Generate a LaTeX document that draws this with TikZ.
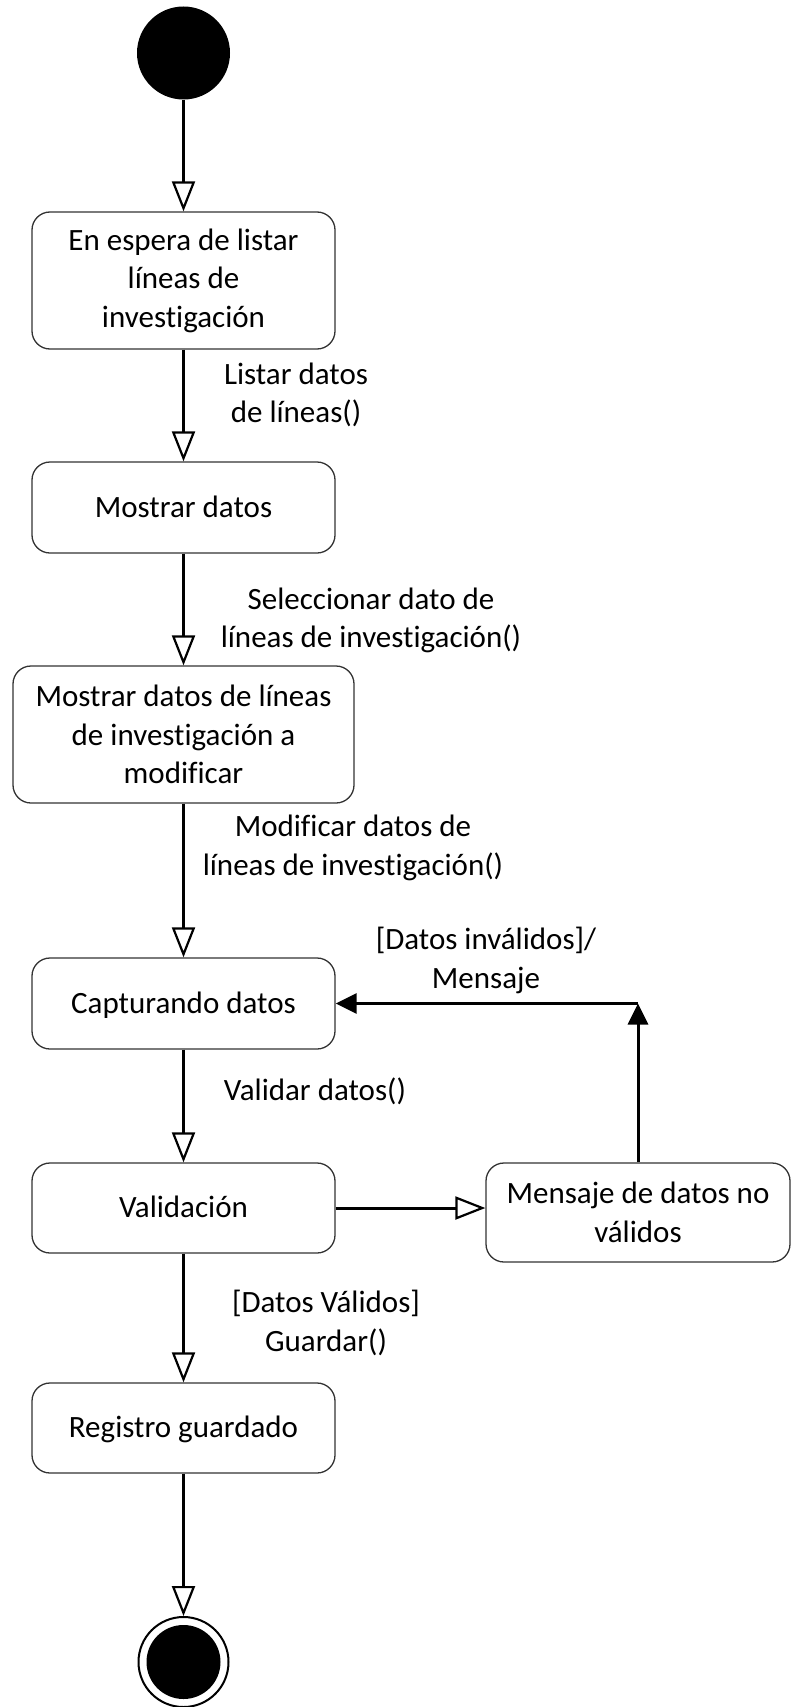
\documentclass[tikz,border=0pt]{standalone}
\usepackage{fontspec}
\setmainfont{Carlito}[Ligatures={NoCommon}]
\usetikzlibrary{arrows.meta}
\begin{document}
\begin{tikzpicture}[x=1pt,y=-1pt,
  txt/.style={font=\fontsize{31}{38.5}\selectfont, text=black, align=center, inner sep=0pt},
  stbox/.style={txt, draw=black!80, line width=1.3pt, rounded corners=18pt, fill=white},
  oneline/.style={text height=22pt, text depth=3pt},
  conn/.style={line width=3pt, -{Triangle[open, length=30pt, width=23pt, line width=2.2pt]}},
  back/.style={line width=3pt, -{Triangle[length=21pt, width=20pt]}},
  lbl/.style={txt}]
\useasboundingbox (0,0) rectangle (793,1707);

\node[circle, fill=black, minimum size=93pt, inner sep=0pt] (start) at (183.5,53) {};

\node[stbox, minimum width=303pt, minimum height=137pt] (s1) at (183.5,280.5)
  {En espera de listar\\líneas de\\investigación};
\node[stbox, oneline, minimum width=303pt, minimum height=91pt] (s2) at (183.5,507.5)
  {Mostrar datos};
\node[stbox, minimum width=341pt, minimum height=137pt] (s3) at (183.5,734.5)
  {Mostrar datos de líneas\\de investigación a\\modificar};
\node[stbox, oneline, minimum width=303pt, minimum height=91pt] (s4) at (183.5,1003.5)
  {Capturando datos};
\node[stbox, oneline, minimum width=303pt, minimum height=90pt] (s5) at (183.5,1208)
  {Validación};
\node[stbox, minimum width=304pt, minimum height=99pt] (s6) at (638,1212.5)
  {Mensaje de datos no\\válidos};
\node[stbox, oneline, minimum width=303pt, minimum height=90pt] (s7) at (183.5,1428)
  {Registro guardado};

\node[circle, draw=black, line width=2pt, minimum size=90pt, inner sep=0pt,
  path picture={\fill[black] (path picture bounding box.center) circle (37pt);}] (end) at (183.5,1662) {};

\node[lbl] (l1) at (296,395) {Listar datos\\de líneas()};
\node[lbl] (l2) at (371,620.5) {Seleccionar dato de\\líneas de investigación()};
\node[lbl] (l3) at (353,848) {Modificar datos de\\líneas de investigación()};
\node[lbl] (l4) at (486,960.5) {[Datos inválidos]/\\Mensaje};
\node[lbl, anchor=base] (l5) at (315,1100) {Validar datos()};
\node[lbl] (l6) at (326,1323) {[Datos Válidos]\\Guardar()};

\draw[conn] (start.south) -- (s1.north);
\draw[conn] (s1.south) -- (s2.north);
\draw[conn] (s2.south) -- (s3.north);
\draw[conn] (s3.south) -- (s4.north);
\draw[conn] (s4.south) -- (s5.north);
\draw[conn] (s5.south) -- (s7.north);
\draw[conn] (s7.south) -- (end.north);
\draw[conn] (s5.east) -- (s5.east -| s6.west);
\coordinate (corner) at (s6.north |- s4.east);
\draw[back] (s6.north) -- (corner);
\draw[back] (corner) -- (s4.east);
\end{tikzpicture}
\end{document}
